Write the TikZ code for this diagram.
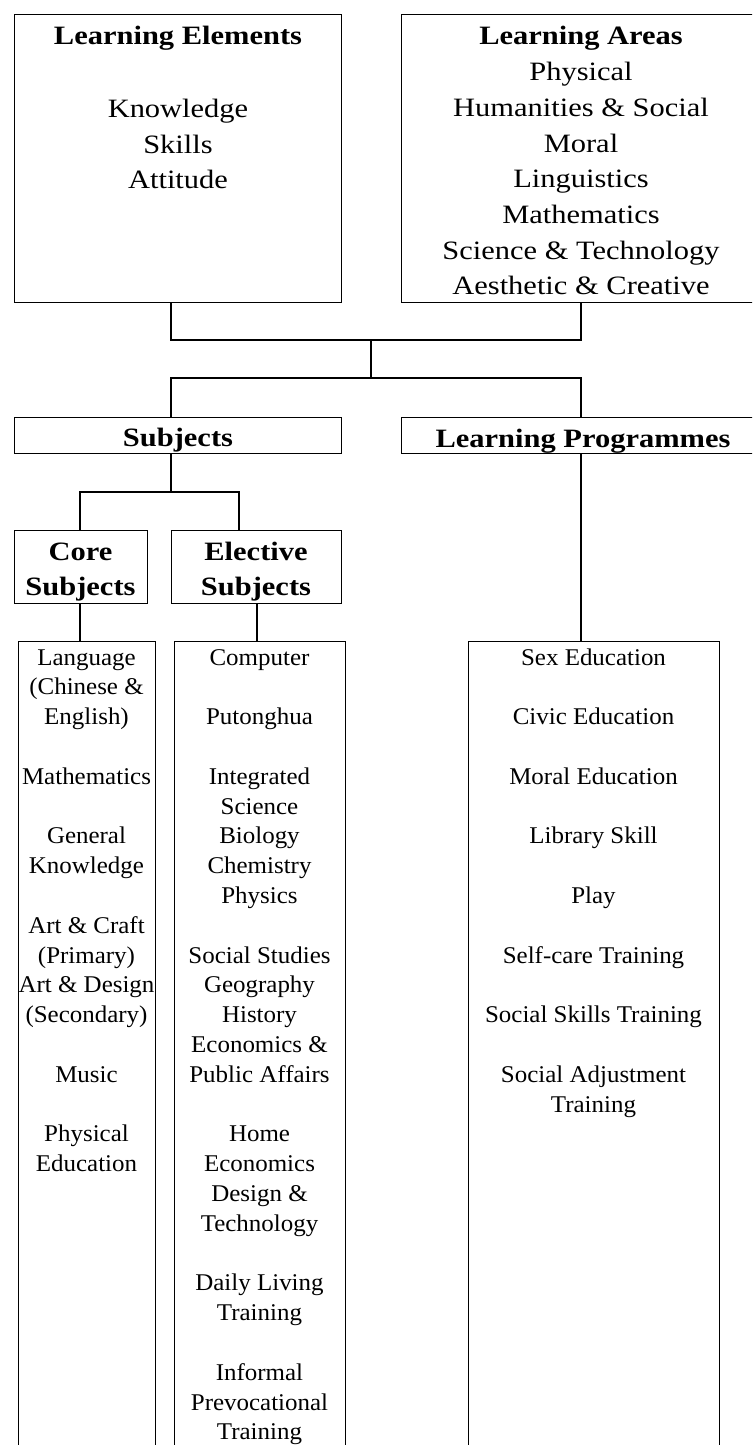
\documentclass[tikz,border=0pt]{standalone}
\usepackage{fontspec}
\setmainfont{Liberation Serif}
\newfontfamily\topf{Liberation Serif}[FakeStretch=1.15]
\newfontfamily\listf{Liberation Serif}[FakeStretch=1.04]
\begin{document}
\begin{tikzpicture}[x=1pt,y=-1pt,
  box/.style={draw, line width=1.4pt, rectangle, anchor=north west, inner sep=0pt},
  conn/.style={draw, line width=1.4pt},
  toptext/.style={anchor=base, inner sep=0pt, font=\topf\fontsize{26.5}{35.7}\selectfont},
  headtext/.style={anchor=base, inner sep=0pt, font=\topf\bfseries\fontsize{26.5}{35.7}\selectfont},
  listtext/.style={anchor=base, inner sep=0pt, font=\listf\fontsize{24}{29.8}\selectfont}]
\useasboundingbox (0,0) rectangle (752,1445);
\fill[white] (0,0) rectangle (752,1445);
\clip (0,0) rectangle (752,1445);

% boxes
\node[box, minimum width=327pt, minimum height=288pt] (le) at (14,14) {};
\node[box, minimum width=360pt, minimum height=288pt] (la) at (401,14) {};
\node[box, minimum width=327pt, minimum height=36pt] (subj) at (14,417) {};
\node[box, minimum width=360pt, minimum height=36pt] (lp) at (401,417) {};
\node[box, minimum width=133pt, minimum height=73pt] (core) at (14,530) {};
\node[box, minimum width=170pt, minimum height=73pt] (elec) at (171,530) {};
\node[box, minimum width=137pt, minimum height=830pt] (corelist) at (18,641) {};
\node[box, minimum width=171pt, minimum height=830pt] (eleclist) at (174,641) {};
\node[box, minimum width=251pt, minimum height=830pt] (lplist) at (468,641) {};

% helper coordinates
\coordinate (xl) at (171,0);
\coordinate (xr) at (581,0);
\coordinate (xc) at (80,0);
\coordinate (xe1) at (239,0);
\coordinate (xe2) at (257,0);
\coordinate (jtop) at (371,340);
\coordinate (jbot) at (371,378);
\coordinate (js) at (171,492);

% connectors
\draw[conn] (le.south -| xl) |- (jtop) -| (la.south -| xr);
\draw[conn] (jtop) -- (jbot);
\draw[conn] (subj.north -| xl) |- (jbot) -| (lp.north -| xr);
\draw[conn] (subj.south -| xl) -- (js);
\draw[conn] (core.north -| xc) |- (js) -| (elec.north -| xe1);
\draw[conn] (core.south -| xc) -- (corelist.north -| xc);
\draw[conn] (elec.south -| xe2) -- (eleclist.north -| xe2);
\draw[conn] (lp.south -| xr) -- (lplist.north -| xr);

% Learning Elements
\node[headtext] (leT) at (178,45) {Learning Elements};
\node[toptext] (le1) at (178,117) {Knowledge};
\node[toptext] (le2) at (178,153) {Skills};
\node[toptext] (le3) at (178,188) {Attitude};

% Learning Areas
\node[headtext] (laT) at (581,45) {Learning Areas};
\foreach \i/\t in {1/Physical, 2/{Humanities \& Social}, 3/Moral, 4/Linguistics, 5/Mathematics, 6/{Science \& Technology}, 7/{Aesthetic \& Creative}}
  \node[toptext] (la\i) at (581,45+35.7*\i) {\t};

% Subjects / Learning Programmes
\node[headtext] (subjT) at (178,446) {Subjects};
\node[headtext] (lpT) at (583,447) {Learning Programmes};

% Core / Elective
\node[headtext] (coreT1) at (80.5,560) {Core};
\node[headtext] (coreT2) at (80.5,595) {Subjects};
\node[headtext] (elecT1) at (256,560) {Elective};
\node[headtext] (elecT2) at (256,595) {Subjects};

% Core list
\foreach \i/\t in {0/Language, 1/{(Chinese \&}, 2/{English)}, 4/Mathematics, 6/General, 7/Knowledge, 9/{Art \& Craft}, 10/{(Primary)}, 11/{Art \& Design}, 12/{(Secondary)}, 14/Music, 16/Physical, 17/Education}
  \node[listtext] (cl\i) at (86.5,665+29.8*\i) {\t};

% Elective list
\foreach \i/\t in {0/Computer, 2/Putonghua, 4/Integrated, 5/Science, 6/Biology, 7/Chemistry, 8/Physics, 10/{Social Studies}, 11/Geography, 12/History, 13/{Economics \&}, 14/{Public Affairs}, 16/Home, 17/Economics, 18/{Design \&}, 19/Technology, 21/{Daily Living}, 22/Training, 24/Informal, 25/Prevocational, 26/Training}
  \node[listtext] (el\i) at (259.5,665+29.8*\i) {\t};

% Learning Programmes list
\foreach \i/\t in {0/{Sex Education}, 2/{Civic Education}, 4/{Moral Education}, 6/{Library Skill}, 8/Play, 10/{Self-care Training}, 12/{Social Skills Training}, 14/{Social Adjustment}, 15/Training}
  \node[listtext] (pl\i) at (593.5,665+29.8*\i) {\t};
\end{tikzpicture}
\end{document}
